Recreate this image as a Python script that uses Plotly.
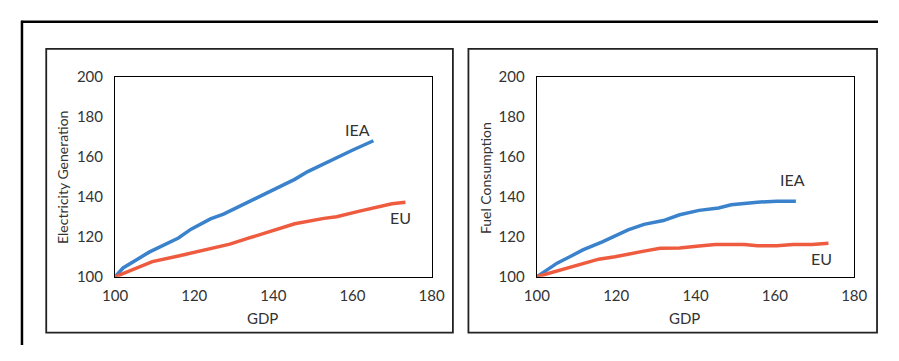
import plotly.graph_objects as go

OFF = 8                                  # page body margin around the figure
W, H = 899 - 2 * OFF, 361 - 2 * OFF      # figure + margins fill the window exactly

# ---- data ----
elec_iea_gdp = [100, 102.0, 108.6, 116.0, 119.2, 124.1, 127.4, 132.3, 137.2, 145.4, 148.7, 155.2, 160.1, 165.3]
elec_iea_val = [100, 104.4, 112.3, 119.4, 123.8, 128.9, 131.3, 136.0, 140.8, 148.7, 152.6, 158.9, 163.4, 168.0]
elec_eu_gdp = [100, 104.5, 109.4, 116.0, 122.5, 129.0, 133.9, 138.8, 145.4, 152.8, 156.0, 161.8, 170.0, 173.4]
elec_eu_val = [100, 103.6, 107.6, 110.4, 113.4, 116.3, 119.4, 122.6, 126.5, 129.2, 130.0, 132.8, 136.5, 137.3]

fuel_iea_gdp = [100, 105.1, 108.3, 111.6, 116.5, 119.7, 123.0, 127.0, 131.9, 136.0, 140.9, 145.8, 149.0, 155.6, 160.5, 165.3]
fuel_iea_val = [100, 106.8, 110.0, 113.4, 117.4, 120.5, 123.4, 126.2, 128.1, 131.0, 133.2, 134.4, 136.0, 137.3, 137.8, 137.8]
fuel_eu_gdp = [100, 105.1, 110.0, 115.6, 119.7, 123.8, 127.0, 131.1, 136.0, 140.9, 145.0, 152.3, 155.6, 160.5, 164.6, 169.4, 173.5]
fuel_eu_val = [100, 102.8, 105.5, 108.8, 110.0, 111.8, 112.8, 114.2, 114.4, 115.4, 116.1, 116.1, 115.5, 115.5, 116.1, 116.1, 116.7]

x_ticks = [100, 120, 140, 160, 180]
y_ticks = [100, 120, 140, 160, 180, 200]
y_titles = ["Electricity Generation", "Fuel Consumption"]
x_title = "GDP"
series_names = ["IEA", "EU"]

BLUE = "#3A82CC"
RED = "#EE5B3F"
TXT = "#333333"
FONT = "Lato"


def px(x):
    return (x - OFF) / W


def py(y):
    return 1 - (y - OFF) / H


fig = go.Figure()

fig.add_trace(go.Scatter(x=elec_iea_gdp, y=elec_iea_val, mode="lines", line=dict(color=BLUE, width=3.5),
                         name=series_names[0], xaxis="x", yaxis="y"))
fig.add_trace(go.Scatter(x=elec_eu_gdp, y=elec_eu_val, mode="lines", line=dict(color=RED, width=3.5),
                         name=series_names[1], xaxis="x", yaxis="y"))
fig.add_trace(go.Scatter(x=fuel_iea_gdp, y=fuel_iea_val, mode="lines", line=dict(color=BLUE, width=3.5),
                         name=series_names[0], xaxis="x2", yaxis="y2"))
fig.add_trace(go.Scatter(x=fuel_eu_gdp, y=fuel_eu_val, mode="lines", line=dict(color=RED, width=3.5),
                         name=series_names[1], xaxis="x2", yaxis="y2"))

ax_common = dict(showgrid=False, zeroline=False, showline=True, mirror=True, linecolor="black", linewidth=1.3,
                 ticks="outside", tickcolor="rgba(0,0,0,0)", tickfont=dict(family=FONT, size=15, color=TXT))

plot_top, plot_bot = 70, 281
fig.update_layout(
    width=W, height=H, margin=dict(l=0, r=0, t=0, b=0),
    paper_bgcolor="white", plot_bgcolor="white", showlegend=False,
    font=dict(family=FONT, color=TXT),
    xaxis=dict(domain=[px(105), px(431)], range=[100, 180], tickvals=x_ticks, ticklen=5, anchor="y", **ax_common),
    yaxis=dict(domain=[py(plot_bot), py(plot_top)], range=[100, 200], tickvals=y_ticks, ticklen=8, anchor="x", **ax_common),
    xaxis2=dict(domain=[px(539.5), px(866.5)], range=[100, 180], tickvals=x_ticks, ticklen=5, anchor="y2", **ax_common),
    yaxis2=dict(domain=[py(plot_bot), py(plot_top)], range=[100, 200], tickvals=y_ticks, ticklen=8, anchor="x2", **ax_common),
)

shapes = [
    # outer frame: only the left and top edges are inside the picture
    dict(type="line", xref="paper", yref="paper", x0=px(9), x1=px(9), y0=0, y1=py(11),
         line=dict(color="black", width=2.5)),
    dict(type="line", xref="paper", yref="paper", x0=px(8), x1=1, y0=py(12), y1=py(12),
         line=dict(color="black", width=2.5)),
    # panel boxes
    dict(type="rect", xref="paper", yref="paper", x0=px(34), y0=py(340), x1=px(453), y1=py(40.5),
         line=dict(color="#222222", width=1.8)),
    dict(type="rect", xref="paper", yref="paper", x0=px(469), y0=py(340), x1=px(890), y1=py(40.5),
         line=dict(color="#222222", width=1.8)),
]
fig.update_layout(shapes=shapes)

ann = []
# axis titles
ann.append(dict(xref="paper", yref="paper", x=px(256.7), y=py(325), text=x_title, showarrow=False,
                font=dict(family=FONT, size=15, color=TXT), xanchor="center", yanchor="middle"))
ann.append(dict(xref="paper", yref="paper", x=px(691.7), y=py(325), text=x_title, showarrow=False,
                font=dict(family=FONT, size=15, color=TXT), xanchor="center", yanchor="middle"))
ann.append(dict(xref="paper", yref="paper", x=px(51), y=py(176), text=y_titles[0], showarrow=False, textangle=-90,
                font=dict(family=FONT, size=14, color=TXT), xanchor="center", yanchor="middle"))
ann.append(dict(xref="paper", yref="paper", x=px(486), y=py(177), text=y_titles[1], showarrow=False, textangle=-90,
                font=dict(family=FONT, size=14, color=TXT), xanchor="center", yanchor="middle"))
# series labels
ann.append(dict(xref="x", yref="y", x=161.3, y=173.5, text=series_names[0], showarrow=False,
                font=dict(family=FONT, size=16, color=TXT)))
ann.append(dict(xref="x", yref="y", x=172.2, y=129.4, text=series_names[1], showarrow=False,
                font=dict(family=FONT, size=16, color=TXT)))
ann.append(dict(xref="x2", yref="y2", x=164.5, y=148.7, text=series_names[0], showarrow=False,
                font=dict(family=FONT, size=16, color=TXT)))
ann.append(dict(xref="x2", yref="y2", x=171.7, y=109.1, text=series_names[1], showarrow=False,
                font=dict(family=FONT, size=16, color=TXT)))
fig.update_layout(annotations=ann)

fig.write_html("out.html")
